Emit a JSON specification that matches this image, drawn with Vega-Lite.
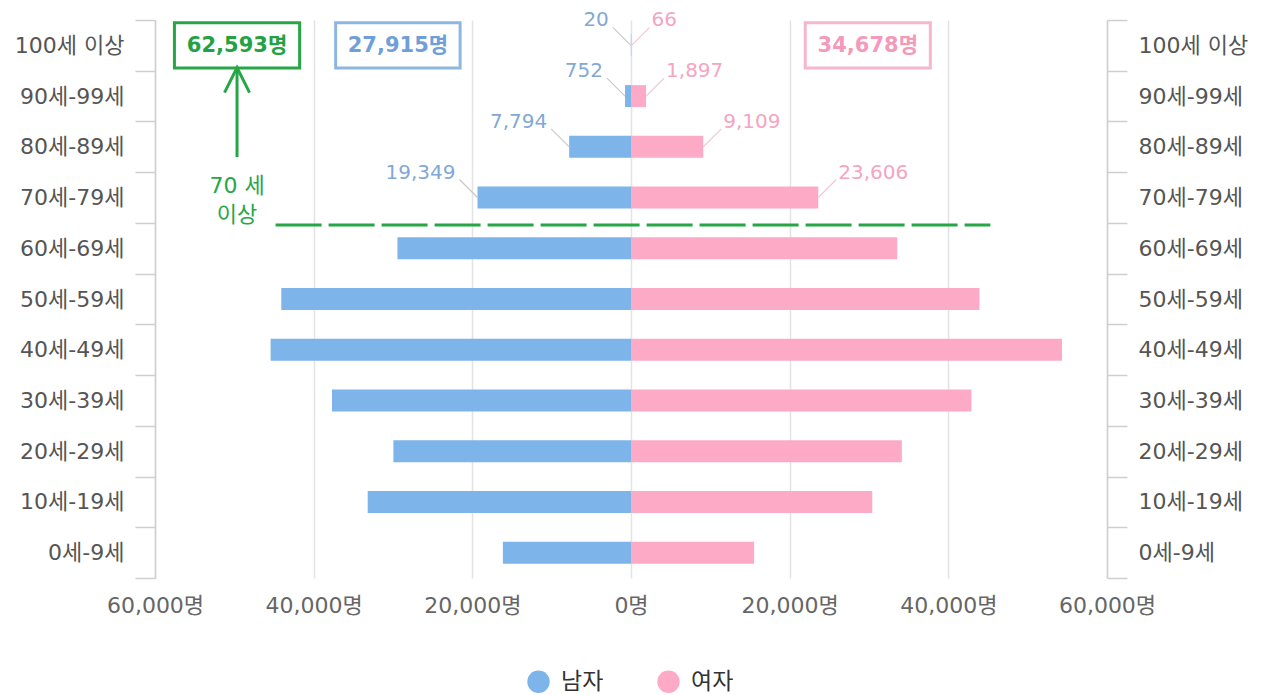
{
  "$schema": "https://vega.github.io/schema/vega-lite/v6.json",
  "width": 952,
  "height": 558,
  "autosize": {"type": "none"},
  "padding": {"left": 155, "top": 20, "right": 159, "bottom": 117},
  "background": "white",
  "config": {"font": "DejaVu Sans, Noto Sans CJK KR", "view": {"stroke": null}},
  "datasets": {
    "pop": [
      {"age": "100세 이상", "sex": "남자", "v": -20, "n": 20},
      {"age": "100세 이상", "sex": "여자", "v": 66, "n": 66},
      {"age": "90세-99세", "sex": "남자", "v": -752, "n": 752},
      {"age": "90세-99세", "sex": "여자", "v": 1897, "n": 1897},
      {"age": "80세-89세", "sex": "남자", "v": -7794, "n": 7794},
      {"age": "80세-89세", "sex": "여자", "v": 9109, "n": 9109},
      {"age": "70세-79세", "sex": "남자", "v": -19349, "n": 19349},
      {"age": "70세-79세", "sex": "여자", "v": 23606, "n": 23606},
      {"age": "60세-69세", "sex": "남자", "v": -29440, "n": 29440},
      {"age": "60세-69세", "sex": "여자", "v": 33560, "n": 33560},
      {"age": "50세-59세", "sex": "남자", "v": -44080, "n": 44080},
      {"age": "50세-59세", "sex": "여자", "v": 43920, "n": 43920},
      {"age": "40세-49세", "sex": "남자", "v": -45430, "n": 45430},
      {"age": "40세-49세", "sex": "여자", "v": 54330, "n": 54330},
      {"age": "30세-39세", "sex": "남자", "v": -37690, "n": 37690},
      {"age": "30세-39세", "sex": "여자", "v": 42910, "n": 42910},
      {"age": "20세-29세", "sex": "남자", "v": -29950, "n": 29950},
      {"age": "20세-29세", "sex": "여자", "v": 34140, "n": 34140},
      {"age": "10세-19세", "sex": "남자", "v": -33190, "n": 33190},
      {"age": "10세-19세", "sex": "여자", "v": 30410, "n": 30410},
      {"age": "0세-9세", "sex": "남자", "v": -16150, "n": 16150},
      {"age": "0세-9세", "sex": "여자", "v": 15520, "n": 15520}
    ],
    "boxes": [
      {"grp": "합계", "label": "62,593명", "x1": -57550, "x2": -41770, "xm": -49660, "age": "100세 이상"},
      {"grp": "남자", "label": "27,915명", "x1": -37230, "x2": -21540, "xm": -29385, "age": "100세 이상"},
      {"grp": "여자", "label": "34,678명", "x1": 21960, "x2": 37730, "xm": 29845, "age": "100세 이상"}
    ],
    "line70": [
      {"x1": -44800, "x2": 45300, "age": "60세-69세"}
    ],
    "arrow": [
      {"x": -49660, "age": "90세-99세", "age2": "70세-79세", "txt": ["70 세", "이상"]}
    ]
  },
  "resolve": {"axis": {"y": "independent"}},
  "layer": [
    {
      "data": {"name": "pop"},
      "mark": {"type": "bar", "height": {"band": 0.434}},
      "encoding": {
        "x": {"field": "v", "type": "quantitative", "title": null,
          "scale": {"domain": [-60000, 60000], "nice": false, "zero": false},
          "axis": {"values": [-60000, -40000, -20000, 0, 20000, 40000, 60000],
            "labelExpr": "format(abs(datum.value), ',') + '명'",
            "grid": true, "gridColor": "#e3e3e3", "gridWidth": 1.5, "domain": false, "ticks": false,
            "labelFontSize": 22, "labelColor": "#666", "labelPadding": 17, "labelFlush": false}},
        "y": {"field": "age", "type": "nominal", "sort": null, "title": null,
          "scale": {"type": "band", "domain": ["100세 이상","90세-99세","80세-89세","70세-79세","60세-69세","50세-59세","40세-49세","30세-39세","20세-29세","10세-19세","0세-9세"], "paddingInner": 0, "paddingOuter": 0},
          "axis": {"orient": "left", "tickBand": "extent", "tickSize": 20, "tickColor": "#cfcfcf", "tickWidth": 1.5,
            "domainColor": "#cfcfcf", "domainWidth": 1.5, "labelPadding": 11, "labelFontSize": 22, "labelColor": "#555", "grid": false}},
        "color": {"field": "sex", "type": "nominal",
          "scale": {"domain": ["남자", "여자"], "range": ["#7db4ea", "#fdaac6"]},
          "legend": {"orient": "none", "legendX": 372, "legendY": 650, "direction": "horizontal", "title": null,
            "symbolType": "circle", "symbolSize": 500, "symbolStrokeWidth": 0, "symbolOpacity": 1,
            "labelFontSize": 23, "labelColor": "#333", "labelOffset": 11, "columnPadding": 53, "padding": 0}}
      }
    },
    {
      "data": {"name": "pop"},
      "transform": [{"filter": "datum.sex == '남자' && indexof(['100세 이상','90세-99세','80세-89세','70세-79세'], datum.age) >= 0"}],
      "mark": {"type": "rule", "color": "#c8c8c8", "strokeWidth": 1.2, "x2Offset": -18, "y2Offset": -18},
      "encoding": {
        "x": {"field": "v", "type": "quantitative", "title": null},
        "x2": {"field": "v"},
        "y": {"field": "age", "type": "nominal", "sort": null, "title": null, "axis": null,
          "scale": {"type": "band", "domain": ["100세 이상","90세-99세","80세-89세","70세-79세","60세-69세","50세-59세","40세-49세","30세-39세","20세-29세","10세-19세","0세-9세"], "paddingInner": 0, "paddingOuter": 0}},
        "y2": {"field": "age"}
      }
    },
    {
      "data": {"name": "pop"},
      "transform": [{"filter": "datum.sex == '여자' && indexof(['100세 이상','90세-99세','80세-89세','70세-79세'], datum.age) >= 0"}],
      "mark": {"type": "rule", "color": "#f2c6d4", "strokeWidth": 1.2, "x2Offset": 18, "y2Offset": -18},
      "encoding": {
        "x": {"field": "v", "type": "quantitative", "title": null},
        "x2": {"field": "v"},
        "y": {"field": "age", "type": "nominal", "sort": null, "title": null, "axis": null,
          "scale": {"type": "band", "domain": ["100세 이상","90세-99세","80세-89세","70세-79세","60세-69세","50세-59세","40세-49세","30세-39세","20세-29세","10세-19세","0세-9세"], "paddingInner": 0, "paddingOuter": 0}},
        "y2": {"field": "age"}
      }
    },
    {
      "data": {"name": "pop"},
      "transform": [{"filter": "datum.sex == '남자' && indexof(['100세 이상','90세-99세','80세-89세','70세-79세'], datum.age) >= 0"}],
      "mark": {"type": "text", "align": "right", "baseline": "alphabetic", "dx": -22, "dy": -19, "fontSize": 20, "color": "#82a8d6"},
      "encoding": {
        "x": {"field": "v", "type": "quantitative", "title": null},
        "y": {"field": "age", "type": "nominal", "sort": null, "title": null, "axis": null,
          "scale": {"type": "band", "domain": ["100세 이상","90세-99세","80세-89세","70세-79세","60세-69세","50세-59세","40세-49세","30세-39세","20세-29세","10세-19세","0세-9세"], "paddingInner": 0, "paddingOuter": 0}},
        "text": {"field": "n", "type": "quantitative", "format": ","}
      }
    },
    {
      "data": {"name": "pop"},
      "transform": [{"filter": "datum.sex == '여자' && indexof(['100세 이상','90세-99세','80세-89세','70세-79세'], datum.age) >= 0"}],
      "mark": {"type": "text", "align": "left", "baseline": "alphabetic", "dx": 20, "dy": -19, "fontSize": 20, "color": "#f4a5bf"},
      "encoding": {
        "x": {"field": "v", "type": "quantitative", "title": null},
        "y": {"field": "age", "type": "nominal", "sort": null, "title": null,
          "scale": {"type": "band", "domain": ["100세 이상","90세-99세","80세-89세","70세-79세","60세-69세","50세-59세","40세-49세","30세-39세","20세-29세","10세-19세","0세-9세"], "paddingInner": 0, "paddingOuter": 0},
          "axis": {"orient": "right", "tickBand": "extent", "tickSize": 20, "tickColor": "#cfcfcf", "tickWidth": 1.5,
            "domainColor": "#cfcfcf", "domainWidth": 1.5, "labelPadding": 11, "labelFontSize": 22, "labelColor": "#555", "grid": false}},
        "text": {"field": "n", "type": "quantitative", "format": ","}
      }
    },
    {
      "data": {"name": "boxes"},
      "mark": {"type": "bar", "height": {"band": 0.89}, "fill": "white", "strokeWidth": 3},
      "encoding": {
        "x": {"field": "x1", "type": "quantitative", "title": null},
        "x2": {"field": "x2"},
        "y": {"field": "age", "type": "nominal", "sort": null, "title": null, "axis": null,
          "scale": {"type": "band", "domain": ["100세 이상","90세-99세","80세-89세","70세-79세","60세-69세","50세-59세","40세-49세","30세-39세","20세-29세","10세-19세","0세-9세"], "paddingInner": 0, "paddingOuter": 0}},
        "stroke": {"field": "grp", "type": "nominal", "legend": null,
          "scale": {"domain": ["합계", "남자", "여자"], "range": ["#27a646", "#8db6e2", "#f6b6cb"]}}
      }
    },
    {
      "data": {"name": "boxes"},
      "mark": {"type": "text", "align": "center", "baseline": "middle", "fontSize": 21, "fontWeight": "bold", "dy": 1},
      "encoding": {
        "x": {"field": "xm", "type": "quantitative", "title": null},
        "y": {"field": "age", "type": "nominal", "sort": null, "title": null, "axis": null,
          "scale": {"type": "band", "domain": ["100세 이상","90세-99세","80세-89세","70세-79세","60세-69세","50세-59세","40세-49세","30세-39세","20세-29세","10세-19세","0세-9세"], "paddingInner": 0, "paddingOuter": 0}},
        "text": {"field": "label"},
        "fill": {"field": "grp", "type": "nominal", "legend": null,
          "scale": {"domain": ["합계", "남자", "여자"], "range": ["#22a243", "#6f9fd8", "#f39abb"]}}
      }
    },
    {
      "data": {"name": "line70"},
      "mark": {"type": "rule", "color": "#27a646", "strokeWidth": 3, "strokeDash": [46, 7], "yOffset": 2},
      "encoding": {
        "x": {"field": "x1", "type": "quantitative", "title": null},
        "x2": {"field": "x2"},
        "y": {"field": "age", "type": "nominal", "sort": null, "title": null, "axis": null, "bandPosition": 0,
          "scale": {"type": "band", "domain": ["100세 이상","90세-99세","80세-89세","70세-79세","60세-69세","50세-59세","40세-49세","30세-39세","20세-29세","10세-19세","0세-9세"], "paddingInner": 0, "paddingOuter": 0}}
      }
    },
    {
      "data": {"name": "arrow"},
      "mark": {"type": "rule", "color": "#27a646", "strokeWidth": 3, "yOffset": -28, "y2Offset": 61},
      "encoding": {
        "x": {"field": "x", "type": "quantitative", "title": null},
        "y": {"field": "age", "type": "nominal", "sort": null, "title": null, "axis": null,
          "scale": {"type": "band", "domain": ["100세 이상","90세-99세","80세-89세","70세-79세","60세-69세","50세-59세","40세-49세","30세-39세","20세-29세","10세-19세","0세-9세"], "paddingInner": 0, "paddingOuter": 0}},
        "y2": {"field": "age"}
      }
    },
    {
      "data": {"name": "arrow"},
      "mark": {"type": "point", "shape": "M-1,1L0,-1L1,1", "size": 625, "filled": false, "color": "#27a646", "strokeWidth": 3, "opacity": 1, "yOffset": -16},
      "encoding": {
        "x": {"field": "x", "type": "quantitative", "title": null},
        "y": {"field": "age", "type": "nominal", "sort": null, "title": null, "axis": null,
          "scale": {"type": "band", "domain": ["100세 이상","90세-99세","80세-89세","70세-79세","60세-69세","50세-59세","40세-49세","30세-39세","20세-29세","10세-19세","0세-9세"], "paddingInner": 0, "paddingOuter": 0}}
      }
    },
    {
      "data": {"name": "arrow"},
      "mark": {"type": "text", "align": "center", "baseline": "middle", "fontSize": 22, "lineHeight": 29, "color": "#27a646", "dy": -12},
      "encoding": {
        "x": {"field": "x", "type": "quantitative", "title": null},
        "y": {"field": "age2", "type": "nominal", "sort": null, "title": null, "axis": null,
          "scale": {"type": "band", "domain": ["100세 이상","90세-99세","80세-89세","70세-79세","60세-69세","50세-59세","40세-49세","30세-39세","20세-29세","10세-19세","0세-9세"], "paddingInner": 0, "paddingOuter": 0}},
        "text": {"field": "txt"}
      }
    }
  ]
}
